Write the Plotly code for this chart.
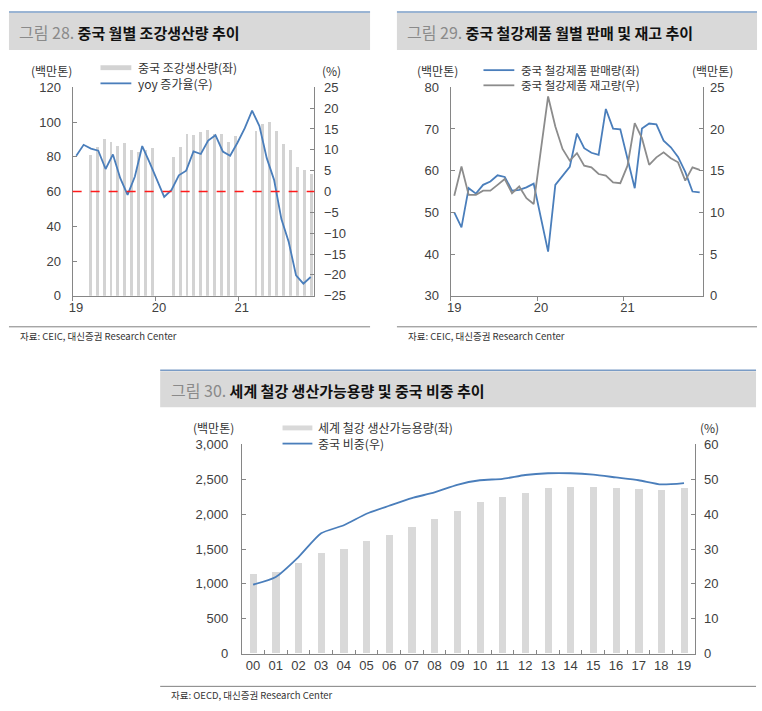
import plotly.graph_objects as go

W, H = 762, 711

# ---- 그림 28: 중국 월별 조강생산량 (2019.01 ~ 2021.11) ----
months = [f"{y}-{m:02d}" for y in (2019, 2020, 2021) for m in range(1, 13)][:35]
crude_steel = [None, None, 80.8, 85.5, 89.9, 88.3, 86.1, 87.9, 83.5, 82.5, 83.9, 85.1,
               None, None, 79.7, 85.6, 93.0, 92.4, 93.9, 95.4, 93.0, 93.0, 88.3, 91.7,
               None, None, 94.6, 98.6, 100.1, 94.5, 87.3, 83.6, 74.2, 72.3, 69.9]
yoy_growth = [8.6, 11.2, 10.3, 9.8, 5.4, 8.9, 3.2, -0.8, 3.6, 10.9, 7.0, 3.0,
              -1.3, 0.4, 3.9, 5.0, 9.6, 9.0, 12.2, 13.5, 9.6, 8.6, 11.7, 15.2,
              19.4, 15.7, 8.0, 2.8, -6.6, -12.1, -20.1, -22.1, -20.5]
year_ticks = ["19", "20", "21"]

# ---- 그림 29: 중국 철강제품 판매 및 재고 ----
sales = [50.0, 46.4, 55.8, 54.5, 56.6, 57.4, 58.9, 58.5, 55.2, 55.4, 56.0, 56.9,
         48.7, 40.6, 56.6, 58.9, 60.9, 68.9, 65.4, 64.3, 63.8, 74.8, 70.1, 69.9,
         62.9, 55.8, 70.1, 71.3, 71.1, 67.2, 65.6, 63.3, 59.7, 55.0, 54.8]
inventory = [12.0, 15.5, 12.1, 12.1, 12.6, 12.6, 13.3, 14.0, 12.3, 13.1, 11.7, 11.0,
             17.5, 23.9, 20.3, 17.6, 16.2, 17.1, 15.6, 15.4, 14.6, 14.4, 13.6, 13.5,
             15.6, 20.7, 18.9, 15.7, 16.6, 17.2, 16.5, 16.0, 13.8, 15.4, 15.1]

# ---- 그림 30: 세계 철강 생산가능용량 및 중국 비중 ----
years = [f"{i:02d}" for i in range(20)]
capacity = [1137, 1169, 1292, 1432, 1503, 1615, 1700, 1817, 1921, 2038,
            2165, 2235, 2296, 2372, 2390, 2386, 2376, 2362, 2338, 2376]
china_share = [19.8, 22.0, 27.7, 34.5, 36.8, 40.1, 42.4, 44.6, 46.2, 48.4,
               49.7, 50.1, 51.2, 51.7, 51.7, 51.3, 50.5, 49.7, 48.5, 48.9]

BLUE = "#4a7ebb"
GRAY_LINE = "#8c8c8c"
BAR = "#d3d3d3"
AXIS = "#868686"
KR = "Noto Sans CJK KR"
NUM = "Liberation Sans"


def px(x):
    return x / W


def py(y):
    return 1 - y / H


fig = go.Figure()

idx = list(range(len(months)))
fig.add_trace(go.Bar(x=idx, y=crude_steel, width=0.42, marker=dict(color=BAR, line_width=0),
                     xaxis="x", yaxis="y"))
fig.add_trace(go.Scatter(x=list(range(len(yoy_growth))), y=yoy_growth, mode="lines",
                         line=dict(color=BLUE, width=1.8), xaxis="x2", yaxis="y2"))

fig.add_trace(go.Scatter(x=idx, y=sales, mode="lines", line=dict(color=BLUE, width=1.8),
                         xaxis="x3", yaxis="y3"))
fig.add_trace(go.Scatter(x=idx, y=inventory, mode="lines", line=dict(color=GRAY_LINE, width=1.8),
                         xaxis="x3", yaxis="y4"))

fig.add_trace(go.Bar(x=years, y=capacity, width=0.32, marker=dict(color="#d9d9d9", line_width=0),
                     xaxis="x4", yaxis="y5"))
fig.add_trace(go.Scatter(x=years, y=china_share, mode="lines", line=dict(color=BLUE, width=1.8,
                         shape="spline", smoothing=0.6), xaxis="x4", yaxis="y6"))

tickfont = dict(family=NUM, size=13, color="#404040")
x28 = [px(69), px(312)]
x29 = [px(449), px(703)]
x30 = [px(239), px(695)]
ytop = [py(295), py(82)]
ybot = [py(660.7), py(446.7)]

common_y = dict(showgrid=False, zeroline=False, showline=True, linecolor=AXIS, linewidth=1,
                ticks="inside", ticklen=4, tickcolor=AXIS, tickfont=tickfont)
month_x = dict(range=[-0.5, 34.5], tickvals=[0, 12, 24], ticktext=year_ticks, ticks="",
               showgrid=False, zeroline=False, showline=True, linecolor=AXIS, linewidth=1,
               tickfont=tickfont,
               minor=dict(tickvals=[-0.5, 11.5, 23.5], ticks="outside", ticklen=4,
                          tickcolor=AXIS, showgrid=False))

fig.update_layout(
    width=W, height=H, margin=dict(l=0, r=0, t=0, b=0),
    paper_bgcolor="white", plot_bgcolor="rgba(0,0,0,0)", showlegend=False, bargap=0,
    xaxis=dict(domain=x28, anchor="y", **month_x),
    xaxis2=dict(domain=x28, overlaying="x", anchor="y2", range=[-0.5, 32.5], visible=False),
    yaxis=dict(domain=ytop, anchor="x", range=[0, 120], dtick=20, ticklabelstandoff=8, **common_y),
    yaxis2=dict(overlaying="y", side="right", anchor="x", range=[-25, 25], dtick=5,
                ticklabelstandoff=6, **common_y),
    xaxis3=dict(domain=x29, anchor="y3", **month_x),
    yaxis3=dict(domain=ytop, anchor="x3", range=[30, 80], dtick=10, ticklabelstandoff=8, **common_y),
    yaxis4=dict(overlaying="y3", side="right", anchor="x3", range=[0, 25], dtick=5,
                ticklabelstandoff=3, **common_y),
    xaxis4=dict(domain=x30, anchor="y5", type="category", tickson="boundaries", ticks="inside",
                ticklen=4, tickcolor=AXIS, showgrid=False, showline=True, linecolor=AXIS,
                tickfont=tickfont, tickangle=0),
    yaxis5=dict(domain=ybot, anchor="x4", range=[0, 3000], dtick=500, tickformat=",",
                ticklabelstandoff=10, **common_y),
    yaxis6=dict(overlaying="y5", side="right", anchor="x4", range=[0, 60], dtick=10,
                ticklabelstandoff=5, **common_y),
)

shapes = []
annots = []


def header(x0, x1, y0, y1, num, title):
    shapes.append(dict(type="rect", xref="paper", yref="paper", x0=px(x0), x1=px(x1),
                       y0=py(y1), y1=py(y0 + 1), fillcolor="#d9d9d9", line_width=0, layer="below"))
    shapes.append(dict(type="line", xref="paper", yref="paper", x0=px(x0), x1=px(x1),
                       y0=py(y0), y1=py(y0), line=dict(color="#7a9cc6", width=1.5)))
    annots.append(dict(xref="paper", yref="paper", x=px(x0 + 8.5), y=py((y0 + y1) / 2 + 1),
                       xanchor="left", yanchor="middle", showarrow=False,
                       text=f"<span style='color:#8a8a8a;font-size:16px'>그림 {num}.</span> <b>{title}</b>",
                       font=dict(family=KR, size=15, color="#111111")))


def footer(x0, x1, y, source):
    shapes.append(dict(type="line", xref="paper", yref="paper", x0=px(x0), x1=px(x1),
                       y0=py(y), y1=py(y), line=dict(color="#808080", width=1)))
    annots.append(dict(xref="paper", yref="paper", x=px(x0 + 9), y=py(y + 9),
                       xanchor="left", yanchor="middle", showarrow=False,
                       text=source, font=dict(family=KR, size=9.5, color="#333333")))


def label(x, y, text, anchor="center", size=12):
    annots.append(dict(xref="paper", yref="paper", x=px(x), y=py(y), xanchor=anchor,
                       yanchor="middle", showarrow=False, text=text,
                       font=dict(family=KR, size=size, color="#333333")))


def swatch_bar(x0, x1, y, color):
    shapes.append(dict(type="rect", xref="paper", yref="paper", x0=px(x0), x1=px(x1),
                       y0=py(y + 2.5), y1=py(y - 2.5), fillcolor=color, line_width=0))


def swatch_line(x0, x1, y, color):
    shapes.append(dict(type="line", xref="paper", yref="paper", x0=px(x0), x1=px(x1),
                       y0=py(y), y1=py(y), line=dict(color=color, width=1.8)))


header(5, 368, 5, 44, 28, "중국 월별 조강생산량 추이")
header(395, 757, 5, 44, 29, "중국 철강제품 월별 판매 및 재고 추이")
header(157, 756, 371, 409, 30, "세계 철강 생산가능용량 및 중국 비중 추이")

footer(5, 368, 326.7, "자료: CEIC, 대신증권 Research Center")
footer(395, 757, 326.7, "자료: CEIC, 대신증권 Research Center")
footer(157, 756, 694, "자료: OECD, 대신증권 Research Center")

# chart 28 legend / units
label(48, 65, "(백만톤)")
label(329, 65, "(%)")
swatch_bar(97, 128, 62, BAR)
label(133, 62, "중국 조강생산량(좌)", "left")
swatch_line(97, 128, 78, BLUE)
label(133, 78, "yoy 증가율(우)", "left")

# chart 29 legend / units
label(436, 65, "(백만톤)")
label(712, 65, "(백만톤)")
swatch_line(482, 513, 64.5, BLUE)
label(518, 64.5, "중국 철강제품 판매량(좌)", "left", 11.5)
swatch_line(482, 513, 80, GRAY_LINE)
label(518, 80, "중국 철강제품 재고량(우)", "left", 11.5)

# chart 30 legend / units
label(211, 430, "(백만톤)")
label(709, 430, "(%)")
swatch_bar(280, 310, 430, "#d9d9d9")
label(314, 430, "세계 철강 생산가능용량(좌)", "left")
swatch_line(280, 310, 446, BLUE)
label(314, 446, "중국 비중(우)", "left")

# zero line on the right axis of chart 28
shapes.append(dict(type="line", xref="x domain", yref="y2", x0=0, x1=1, y0=0, y1=0,
                   line=dict(color="#ff1a1a", width=1.4, dash="dash")))

fig.update_layout(shapes=shapes, annotations=annots)
fig.write_html("out.html", config={"displayModeBar": False},
               post_script="document.body.style.margin='0';")
